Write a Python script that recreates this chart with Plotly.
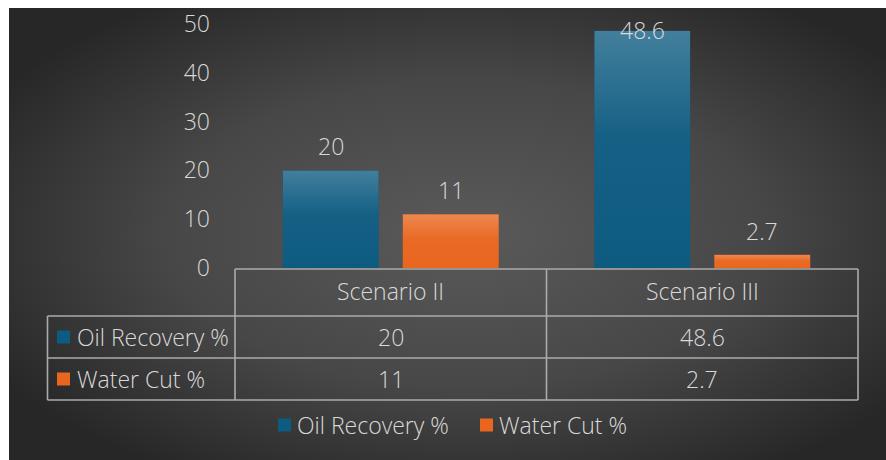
import base64
import plotly.graph_objects as go

# ---- data ----
categories = ["Scenario II", "Scenario III"]
series_names = ["Oil Recovery %", "Water Cut %"]
oil_recovery = [20, 48.6]
water_cut = [11, 2.7]
y_ticks = [0, 10, 20, 30, 40, 50]

# ---- style ----
W, H = 886, 460
FONT = "Open Sans"
FONT_SIZE = 23
TXT = "#d9d9d9"
LINE = "#ababab"
colors = ["#0e5b81", "#e9661f"]
values = [oil_recovery, water_cut]

# pixel geometry of the plotting area and table
PX_LEFT, PX_RIGHT = 235, 858
PX_ZERO, PX_TOP = 268, 24
Y_MAX = 50
ROW_Y = [269, 316, 358, 400]
TABLE_LEFT = 47.5
BAR_W = 0.308        # bar width in category units
BAR_OFF = 0.1926     # distance of each bar centre from its category centre


def px(x):
    return x / W


def py(y):
    return 1 - y / H


def fmt(v):
    return f"{v:g}"


def svg_uri(svg):
    return "data:image/svg+xml;base64," + base64.b64encode(svg.encode()).decode()


def text_font():
    return dict(family=FONT, size=FONT_SIZE, color=TXT, weight=300)


cat_pos = list(range(len(categories)))

fig = go.Figure()
for name, vals, col in zip(series_names, values, colors):
    fig.add_trace(go.Bar(
        x=cat_pos, y=vals, name=name,
        marker=dict(color=col, line=dict(width=0)),
        hoverinfo="skip", showlegend=False,
    ))

# background panel with a soft radial shading
bg_svg = (
    '<svg xmlns="http://www.w3.org/2000/svg" width="877" height="452">'
    '<defs><radialGradient id="g" cx="0.52" cy="0.5" r="0.62">'
    '<stop offset="0" stop-color="#5a5a5a"/>'
    '<stop offset="0.55" stop-color="#474747"/>'
    '<stop offset="1" stop-color="#272727"/>'
    '</radialGradient></defs>'
    '<rect width="100%" height="100%" fill="url(#g)"/></svg>'
)
# light sheen at the top of each bar
sheen_svg = (
    '<svg xmlns="http://www.w3.org/2000/svg" width="10" height="100" preserveAspectRatio="none">'
    '<defs><linearGradient id="s" x1="0" y1="0" x2="0" y2="1">'
    '<stop offset="0" stop-color="#ffffff" stop-opacity="0.22"/>'
    '<stop offset="0.45" stop-color="#ffffff" stop-opacity="0.03"/>'
    '<stop offset="1" stop-color="#ffffff" stop-opacity="0"/>'
    '</linearGradient></defs>'
    '<rect width="100%" height="100%" fill="url(#s)"/></svg>'
)

images = [dict(source=svg_uri(bg_svg), xref="paper", yref="paper",
               x=px(9), y=py(8), sizex=px(877), sizey=452 / H,
               xanchor="left", yanchor="top", sizing="stretch", layer="below")]
shapes = []
annotations = []

px_per_unit = (PX_ZERO - PX_TOP) / Y_MAX
cat_w = (PX_RIGHT - PX_LEFT) / len(categories)
for si, vals in enumerate(values):
    off = -BAR_OFF if si == 0 else BAR_OFF
    for ci, v in enumerate(vals):
        images.append(dict(source=svg_uri(sheen_svg), xref="x", yref="y",
                           x=ci + off - BAR_W / 2, y=v, sizex=BAR_W, sizey=v,
                           xanchor="left", yanchor="top", sizing="stretch", layer="above"))
        # value labels above bars, kept inside the plotting area
        label_y = min(v + 24 / px_per_unit, Y_MAX - 1.2)
        annotations.append(dict(
            x=ci + off, y=label_y, xref="x", yref="y",
            text=fmt(v), showarrow=False, xanchor="center", yanchor="middle",
            font=text_font(),
        ))

# table grid
line = dict(color=LINE, width=1.6)
shapes.append(dict(type="line", xref="paper", yref="paper",
                   x0=px(PX_LEFT), x1=px(PX_RIGHT), y0=py(ROW_Y[0]), y1=py(ROW_Y[0]), line=line))
for ry in ROW_Y[1:]:
    shapes.append(dict(type="line", xref="paper", yref="paper",
                       x0=px(TABLE_LEFT), x1=px(PX_RIGHT), y0=py(ry), y1=py(ry), line=line))
for cx in [PX_LEFT + i * cat_w for i in range(len(categories) + 1)]:
    shapes.append(dict(type="line", xref="paper", yref="paper",
                       x0=px(cx), x1=px(cx), y0=py(ROW_Y[0]), y1=py(ROW_Y[-1]), line=line))
shapes.append(dict(type="line", xref="paper", yref="paper",
                   x0=px(TABLE_LEFT), x1=px(TABLE_LEFT), y0=py(ROW_Y[1]), y1=py(ROW_Y[-1]), line=line))

# table header
for ci, cat in enumerate(categories):
    annotations.append(dict(
        x=px(PX_LEFT + (ci + 0.5) * cat_w), y=py((ROW_Y[0] + ROW_Y[1]) / 2 - 2),
        xref="paper", yref="paper", text=cat, showarrow=False,
        xanchor="center", yanchor="middle", font=text_font(),
    ))

# table rows
for si, (name, vals, col) in enumerate(zip(series_names, values, colors)):
    yc = (ROW_Y[si + 1] + ROW_Y[si + 2]) / 2
    shapes.append(dict(type="rect", xref="paper", yref="paper",
                       x0=px(57), x1=px(70), y0=py(yc - 6.5), y1=py(yc + 6.5),
                       fillcolor=col, line=dict(width=0)))
    annotations.append(dict(
        x=px(75), y=py(yc), xref="paper", yref="paper", text=name,
        showarrow=False, xanchor="left", yanchor="middle", font=text_font(),
    ))
    for ci, v in enumerate(vals):
        annotations.append(dict(
            x=px(PX_LEFT + (ci + 0.5) * cat_w), y=py(yc), xref="paper", yref="paper",
            text=fmt(v), showarrow=False, xanchor="center", yanchor="middle",
            font=text_font(),
        ))

# legend
legend_y = 425
legend_x = [278, 480]
for name, col, lx in zip(series_names, colors, legend_x):
    shapes.append(dict(type="rect", xref="paper", yref="paper",
                       x0=px(lx), x1=px(lx + 13), y0=py(legend_y - 6.5), y1=py(legend_y + 6.5),
                       fillcolor=col, line=dict(width=0)))
    annotations.append(dict(
        x=px(lx + 17), y=py(legend_y), xref="paper", yref="paper", text=name,
        showarrow=False, xanchor="left", yanchor="middle", font=text_font(),
    ))

fig.update_layout(
    width=W, height=H,
    margin=dict(l=0, r=0, t=0, b=0, autoexpand=False),
    paper_bgcolor="white", plot_bgcolor="rgba(0,0,0,0)",
    barmode="group", bargap=0.2295, bargroupgap=0.2,
    images=images,
    xaxis=dict(domain=[px(PX_LEFT), px(PX_RIGHT)], range=[-0.5, 1.5], automargin=False,
               showticklabels=False, showgrid=False, zeroline=False, showline=False, ticks=""),
    yaxis=dict(domain=[py(PX_ZERO), py(PX_TOP)], range=[0, Y_MAX], automargin=False,
               tickvals=y_ticks, showgrid=False, zeroline=False, showline=False, ticks="",
               ticklabelstandoff=24, tickfont=text_font()),
    shapes=shapes, annotations=annotations,
)

fig.write_html("out.html")
